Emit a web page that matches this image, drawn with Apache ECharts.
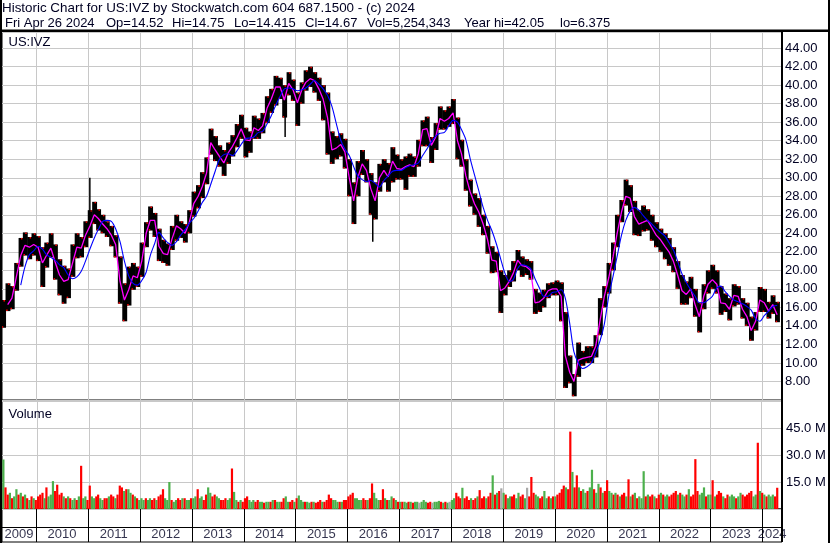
<!DOCTYPE html>
<html><head><meta charset="utf-8">
<script src="https://cdn.jsdelivr.net/npm/echarts@6/dist/echarts.min.js"></script>
<style>html,body{margin:0;padding:0;background:#fff}#c{width:830px;height:543px}</style>
</head><body><div id="c"></div>
<script>
// ---- data (monthly, May 2009 .. Apr 2024) ----
const startYear = 2009, startMonth = 4; // May
const priceLow = [
 13.8,15.6,15.8,17.8,20.4,21.6,21.2,21.6,
 21.0,18.2,20.3,21.4,19.0,17.3,16.4,17.0,19.3,21.3,21.4,22.5,
 23.5,25.0,24.3,24.0,23.6,22.6,21.4,16.4,14.5,16.2,17.9,18.2,
 19.3,22.5,24.3,23.6,21.0,20.8,20.5,22.2,23.2,23.5,23.0,24.0,
 25.8,26.7,27.8,29.3,32.5,31.8,31.2,30.2,31.5,32.3,33.3,34.2,
 32.2,32.7,34.2,34.2,34.8,35.9,37.0,37.8,38.5,36.5,38.9,38.3,
 35.6,38.0,39.4,39.8,39.2,38.3,36.2,32.5,31.5,32.0,32.3,31.0,
 28.0,25.0,28.0,30.3,29.5,26.0,25.5,28.5,29.5,28.5,29.5,29.8,
 29.8,28.7,30.1,30.1,31.2,33.4,33.4,31.6,33.0,35.2,35.2,35.5,
 35.8,32.0,31.2,28.6,26.9,26.0,24.7,23.8,21.8,19.7,19.8,15.4,
 17.3,18.2,18.8,20.0,19.3,19.5,19.0,15.3,15.5,16.0,17.0,17.3,
 17.3,14.5,7.3,7.8,6.4,8.5,9.7,10.0,10.0,10.6,13.0,16.0,
 17.5,20.0,22.5,25.2,27.0,26.3,23.8,23.7,24.2,24.3,23.2,22.5,
 22.0,21.2,20.5,19.8,18.0,16.3,16.3,17.0,15.0,13.3,15.8,17.5,
 18.0,17.5,15.2,15.5,14.6,16.1,16.3,14.8,14.0,12.4,13.5,15.5,
 15.5,14.8,15.3,14.4];
const priceHigh = [
 16.8,18.6,18.3,20.8,23.5,24.1,23.6,24.0,
 23.7,22.5,23.0,24.0,22.8,21.2,20.5,20.2,22.8,24.0,23.6,25.3,
 26.5,27.4,26.6,26.0,25.3,24.8,23.8,21.5,18.6,20.4,20.8,20.4,
 23.0,25.2,26.9,26.2,24.5,23.3,22.9,24.8,26.0,25.3,25.0,26.5,
 28.5,29.2,30.6,32.2,35.3,34.5,33.5,33.0,33.8,34.6,35.8,36.8,
 35.4,35.0,36.7,36.4,37.0,38.8,39.6,41.0,40.8,40.0,41.4,40.6,
 39.2,40.3,41.6,42.0,41.4,40.8,40.0,39.2,35.0,34.5,34.8,34.2,
 32.0,29.5,31.8,33.0,32.0,30.5,29.5,31.5,32.0,31.6,33.3,32.5,
 32.0,32.3,32.6,32.3,34.1,36.2,36.6,34.4,35.9,37.7,37.3,37.7,
 38.5,36.5,34.1,32.0,29.8,28.3,27.8,26.0,24.8,22.6,22.0,20.0,
 19.5,20.0,21.0,22.2,21.5,21.2,21.0,18.0,17.6,17.9,18.6,18.7,
 18.9,18.7,15.5,10.8,8.8,12.2,11.3,11.8,11.8,13.0,17.0,18.3,
 20.8,23.0,26.0,27.6,29.8,29.2,27.5,26.5,27.0,26.6,26.0,25.2,
 24.5,24.0,23.5,22.5,21.0,19.5,18.8,19.3,18.0,16.5,18.5,20.0,
 20.6,20.0,18.3,17.5,17.0,18.5,18.3,17.0,16.5,15.0,15.5,18.2,
 18.0,16.6,17.3,16.6];
const maShort = [
 null,16.3,17.0,19.3,21.6,22.7,22.5,22.8,
 22.5,20.8,21.6,22.4,20.9,19.5,18.8,19.0,20.8,22.5,22.4,23.8,
 24.8,26.0,25.6,25.0,24.5,23.8,22.8,18.8,16.8,17.9,19.4,19.2,
 21.0,24.0,25.4,25.4,22.6,21.8,21.7,23.4,24.8,24.5,24.0,25.2,
 27.2,28.0,29.0,30.5,33.8,33.0,32.3,31.6,32.7,33.4,34.3,35.3,
 34.1,34.0,35.4,35.1,35.6,37.5,38.5,39.8,39.8,38.4,40.2,39.5,
 38.1,39.5,40.3,40.7,40.5,39.6,38.5,36.5,33.0,33.2,33.6,32.8,
 30.0,27.5,30.0,31.5,30.8,28.8,27.5,30.0,30.8,30.1,31.8,31.0,
 30.9,31.2,31.4,31.2,32.6,35.2,35.3,33.5,34.4,36.4,36.1,36.4,
 37.0,34.0,32.6,30.2,28.5,27.2,26.3,25.0,23.3,21.1,21.0,17.8,
 18.1,18.8,19.7,21.1,20.5,20.4,20.0,16.5,16.6,17.0,17.8,18.0,
 18.0,17.2,10.8,9.0,8.0,10.3,10.5,10.6,10.7,11.8,14.6,17.2,
 19.2,21.5,24.0,26.3,28.0,27.8,25.8,25.0,25.2,25.4,24.6,23.8,
 23.3,22.6,22.0,21.0,19.5,17.8,17.4,18.0,16.3,15.0,17.2,18.5,
 19.0,18.5,16.5,16.4,15.8,17.3,17.2,15.8,15.0,13.5,14.5,16.8,
 16.5,15.6,16.3,15.2];
const maLong = [
 null,null,null,null,18.4,20.4,21.7,22.1,
 22.6,22.3,21.7,21.4,21.1,20.6,20.3,19.5,19.1,19.3,19.9,21.0,
 22.3,23.5,24.4,25.3,25.4,25.3,24.5,23.1,21.0,19.4,18.6,18.4,
 18.9,19.8,21.6,22.9,24.1,23.5,23.0,22.7,23.1,23.8,24.4,25.1,
 25.6,26.4,27.3,28.0,29.3,30.7,32.0,32.5,32.6,32.4,32.9,33.6,
 34.2,34.3,34.4,34.9,35.0,35.8,36.7,37.8,38.8,39.6,39.7,39.6,
 39.4,39.5,39.7,40.1,40.5,40.1,39.6,38.9,37.7,35.9,34.1,33.1,
 32.4,31.2,30.2,29.8,29.6,29.7,29.4,29.0,29.7,30.2,30.7,30.8,
 30.8,31.1,31.3,31.4,31.6,32.4,33.1,33.9,34.5,34.8,34.9,35.6,
 36.2,36.0,35.2,34.1,32.1,30.3,28.6,26.8,25.4,24.3,22.9,21.3,
 19.7,18.8,19.0,20.2,20.6,20.5,20.2,19.1,18.1,17.2,17.2,17.6,
 17.7,17.9,17.0,14.3,11.2,10.0,9.4,9.6,10.0,11.1,12.4,14.2,
 17.2,19.4,21.5,23.8,25.4,26.4,26.8,26.5,25.9,25.4,25.0,24.5,
 24.1,23.7,23.0,22.2,21.0,19.6,18.7,17.9,17.2,16.5,16.5,16.8,
 17.2,18.1,18.3,17.7,17.2,16.8,16.6,16.4,16.1,15.7,14.8,14.5,
 15.1,15.6,16.1,16.2];
// single-day extremes: [date, low, high]
const spikes = [['2011-01-14', 26.0, 30.0], ['2014-10-20', 34.4, 37.5], ['2016-06-28', 23.1, 26.5]];
// volume (millions), two per month, May 2009 .. Apr 2024
const volume = [
 27.5,12,8,9,6,7,11,8,9,7,8,6,5,7,6,5,
 7,8,9,6,12,7,8,15.5,10,13.5,8,9,7,6,7,6,5,6,5,7,24,6,7,5,
 13,7,6,7,8,6,5,6,6,7,8,7,6,8,13,12,10,11,11,9,8,7,6,5,
 6,5,6,5,6,5,6,5,7,8,11,6,5,15,5,4,5,6,5,6,6,5,5,6,
 6,7,11,6,7,5,8,12,9,7,8,7,6,5,5,6,5,6,22.5,9.5,5,4,5,4,
 6,7,5,4,5,4,5,4,4,3.5,4,4,4,5,5,4,4,4,6,7,4,4,5,4,
 6,7.5,5,4,4,4,3.5,4,4,3.5,4,5,4,4,5,8,6,5,5,4,4,4,5,5,
 7,8,9,6,6,5,5,6,5,5,6,14.2,9,6,5,5,11,6,5,5,7,6,5,4,
 4,4,4,3.5,4,4,3.5,4,4,3.5,4,5,4,3.5,4,3.5,4,4,4.5,4,3.5,4,3.5,4,
 5,6,9,7,6,11.8,6,7,5,6,5,6,7,10.5,6,7,6,7,9,18.7,8,9,10,11.5,
 9,8,6,7,7,8,6,9,7,8,6,11.8,7,17.8,9,8,7,6,7,10,6,7,6,7,
 7,8,9,11,13,12,11,43,20.6,12,18.7,12,10,11,9,10,12,21.8,11,9,14,12,9,10,
 16,10,9,8,9,8,7,8,9,7,16.5,7,8,9,6,7,6,21,7,8,7,8,7,6,
 8,9,8,7,8,7,8,9,10,8,9,8,7,8,11,7,8,27.7,10,8,9,12,7,8,
 8,16,7,8,10,9,7,6,8,7,8,7,6,7,9,8,7,8,9,10,7,8,36.8,10,
 9,8,7,8,7,8,7,11.8];
// g = up, r = down, n = unchanged
const volumeDir = (
 'grrgrggrgrgrgrgr' +
 'rrrgrgggrrrrgrgrggrgrggr' + 'rggrrggrrgrrgrrrgrggrgrg' + 'ggrggrrgrrrgggrggrrgrggr' +
 'ggrggrrggrrggrrrggrggrgr' + 'rrgggrrggrggrgrggrrggrrg' + 'rgggrggrgrrrgrrrrgggrgrr' +
 'rrrggggrrgrrgggrrgrggrgr' + 'grggrgrggngggrrngggrgrgn' + 'ggrrrgrrrgrrgrrrgrrgrgrn' +
 'grggrrggrrgnrrrggrrggrgr' + 'grrrrgrrgrrgrggrggrggrgr' + 'rggrgrgrrgrgrgrgggrgrrgr' +
 'rgrggrrrrgrggrgrrrrgggrg' + 'grgrrrgrrgggrggrrrrrggrg' + 'rgrgggrr').split('');
const yearLabels = ['2009','2010','2011','2012','2013','2014','2015','2016','2017','2018','2019','2020','2021','2022','2023','2024'];
const priceTicks = [8,10,12,14,16,18,20,22,24,26,28,30,32,34,36,38,40,42,44];
const volumeTicks = [15,30,45];
const titleLine1 = 'Historic Chart for US:IVZ by Stockwatch.com 604 687.1500 - (c) 2024';
const titleLine2 = ['Fri Apr 26 2024', 'Op=14.52', 'Hi=14.75', 'Lo=14.415', 'Cl=14.67', 'Vol=5,254,343', 'Year hi=42.05', 'lo=6.375'];
const titleLine2X = [5, 106, 172, 234, 305, 367, 464, 560];

// ---- build ----
const FONT = '"Liberation Sans", Arial, sans-serif';
const TXT = '#000022';
const GRIDC = '#c8c8c8';
const monthMs = 30.44 * 86400000;
const monthDates = priceLow.map((_, i) => +new Date(startYear, startMonth + i, 15));
const halfDates = volume.map((_, i) => +new Date(startYear, startMonth + Math.floor(i / 2), i % 2 ? 23 : 8));
const xMin = +new Date(2009, 4, 6);
const xMax = +new Date(2024, 4, 19);
const yearStarts = yearLabels.slice(1).map(y => +new Date(+y, 0, 1));
const volColors = { g: '#4cb04c', r: '#ff0000', n: '#a8a8a8' };

function vLine(color) {
  return function (params, api) {
    const cs = params.coordSys;
    const px = Math.round(api.coord([api.value(0), api.value(1)])[0]) + 0.5;
    return { type: 'line', shape: { x1: px, y1: cs.y, x2: px, y2: cs.y + cs.height },
             style: { stroke: color, lineWidth: 1 } };
  };
}

const textEls = [
  { type: 'text', x: 2, y: 8, z: 100, style: { text: titleLine1, font: '13.4px ' + FONT, fill: TXT, verticalAlign: 'middle' } }
].concat(titleLine2.map((s, i) => ({ type: 'text', x: titleLine2X[i], y: 23.5, z: 100,
  style: { text: s, font: '13px ' + FONT, fill: TXT, verticalAlign: 'middle' } })));

const chart = echarts.init(document.getElementById('c'));
chart.setOption({
  animation: false,
  backgroundColor: '#fff',
  grid: [
    { left: 2, top: 32, width: 780, height: 368, show: true, borderColor: '#000', borderWidth: 1 },
    { left: 2, top: 401, width: 780, height: 108, show: true, borderColor: '#000', borderWidth: 1 },
    { left: 2, top: 509, width: 780, height: 33, show: true, borderColor: '#000', borderWidth: 1 }
  ],
  xAxis: [0, 1, 2].map(i => ({ type: 'time', gridIndex: i, min: xMin, max: xMax, show: false })),
  yAxis: [
    { type: 'value', gridIndex: 0, position: 'right', min: 6, max: 45.74, interval: 2,
      axisLine: { show: false }, axisTick: { show: false },
      splitLine: { show: true, lineStyle: { color: GRIDC, width: 1 } },
      axisLabel: { margin: 3, color: TXT, fontSize: 13, fontFamily: FONT, padding: [3, 0, 0, 0],
        formatter: v => priceTicks.includes(Math.round(v * 100) / 100) ? v.toFixed(2) : '' } },
    { type: 'value', gridIndex: 1, position: 'right', min: 0, max: 60, interval: 15,
      axisLine: { show: false }, axisTick: { show: false },
      splitLine: { show: true, lineStyle: { color: GRIDC, width: 1 } },
      axisLabel: { margin: 4, color: TXT, fontSize: 13, fontFamily: FONT,
        formatter: v => volumeTicks.includes(v) ? v.toFixed(1) + ' M' : '' } },
    { type: 'value', gridIndex: 2, min: 0, max: 2, show: false }
  ],
  series: [
    { type: 'custom', xAxisIndex: 0, yAxisIndex: 0, silent: true, clip: false, z: 1,
      data: yearStarts.map(t => [t, 20]), encode: { x: 0, y: 1 }, renderItem: vLine(GRIDC) },
    { type: 'custom', xAxisIndex: 1, yAxisIndex: 1, silent: true, clip: false, z: 1,
      data: yearStarts.map(t => [t, 10]), encode: { x: 0, y: 1 }, renderItem: vLine(GRIDC) },
    { type: 'custom', xAxisIndex: 2, yAxisIndex: 2, silent: true, clip: false, z: 1,
      data: yearStarts.map(t => [t, 1]), encode: { x: 0, y: 1 }, renderItem: vLine('#000') },
    { type: 'custom', xAxisIndex: 2, yAxisIndex: 2, silent: true, clip: false, z: 1,
      data: [[xMin, 0.93]], encode: { x: 0, y: 1 },
      renderItem: (params, api) => {
        const cs = params.coordSys;
        const y = Math.round(api.coord([api.value(0), api.value(1)])[1]) + 0.5;
        return { type: 'line', shape: { x1: cs.x, y1: y, x2: cs.x + cs.width, y2: y }, style: { stroke: '#000', lineWidth: 1 } };
      } },
    { type: 'custom', name: 'price', xAxisIndex: 0, yAxisIndex: 0, silent: true, clip: true, z: 3,
      data: monthDates.map((t, i) => [t, priceLow[i], priceHigh[i]]), encode: { x: 0, y: [1, 2] },
      renderItem: (params, api) => {
        const t = api.value(0);
        const top = api.coord([t, api.value(2)]);
        const bot = api.coord([t, api.value(1)]);
        const w = api.size([monthMs, 0])[0];
        const x0 = top[0] - w / 2;
        return { type: 'group', children: [
          { type: 'rect', shape: { x: x0, y: top[1], width: w + 0.6, height: Math.max(1, bot[1] - top[1]) }, style: { fill: '#000' } },
          { type: 'rect', shape: { x: x0 + w * 0.55, y: top[1], width: 1.5, height: 1.5 }, style: { fill: '#ff0000' } },
          { type: 'rect', shape: { x: x0 + w * 0.15, y: bot[1] - 1.5, width: 1.5, height: 1.5 }, style: { fill: '#ff0000' } }
        ] };
      } },
    { type: 'custom', xAxisIndex: 0, yAxisIndex: 0, silent: true, clip: true, z: 3,
      data: spikes.map(s => [+new Date(s[0] + 'T12:00:00'), s[1], s[2]]), encode: { x: 0, y: [1, 2] },
      renderItem: (params, api) => {
        const t = api.value(0);
        const a = api.coord([t, api.value(2)]), b = api.coord([t, api.value(1)]);
        return { type: 'line', shape: { x1: a[0], y1: a[1], x2: b[0], y2: b[1] }, style: { stroke: '#000', lineWidth: 1.5 } };
      } },
    { type: 'line', xAxisIndex: 0, yAxisIndex: 0, silent: true, z: 4, symbol: 'none', showSymbol: false,
      data: monthDates.map((t, i) => [t, maShort[i]]), lineStyle: { color: '#ff00ff', width: 1.3 } },
    { type: 'line', xAxisIndex: 0, yAxisIndex: 0, silent: true, z: 5, symbol: 'none', showSymbol: false, smooth: 0.3,
      data: monthDates.map((t, i) => [t, maLong[i]]), lineStyle: { color: '#0000ff', width: 1.1 } },
    { type: 'bar', xAxisIndex: 1, yAxisIndex: 1, silent: true, z: 3, barWidth: 2.2,
      data: volume.map((v, i) => ({ value: [halfDates[i], v], itemStyle: { color: volColors[volumeDir[i]] } })) },
    { type: 'scatter', xAxisIndex: 2, yAxisIndex: 2, silent: true, z: 6, symbolSize: 1,
      itemStyle: { color: 'rgba(0,0,0,0)' },
      data: yearLabels.map(y => {
        const s = Math.max(xMin, +new Date(+y, 0, 1));
        const e = Math.min(xMax, +new Date(+y + 1, 0, 1));
        return [(s + e) / 2, 0.45, y];
      }),
      label: { show: true, position: 'inside', formatter: p => String(p.value[2]), color: TXT, fontSize: 13, fontFamily: FONT } }
  ],
  graphic: textEls.concat([
    { type: 'text', x: 8.5, y: 42, z: 100, style: { text: 'US:IVZ', font: '13px ' + FONT, fill: TXT, verticalAlign: 'middle' } },
    { type: 'text', x: 8.5, y: 414.5, z: 100, style: { text: 'Volume', font: '13px ' + FONT, fill: TXT, verticalAlign: 'middle' } },
    { type: 'rect', z: 100, shape: { x: 0, y: 29.5, width: 830, height: 2.5 }, style: { fill: '#000' } },
    { type: 'rect', z: 100, shape: { x: 0, y: 0, width: 2, height: 543 }, style: { fill: '#000' } },
    { type: 'rect', z: 100, shape: { x: 828, y: 0, width: 2, height: 543 }, style: { fill: '#000' } },
    { type: 'rect', z: 100, shape: { x: 781, y: 31, width: 2, height: 511 }, style: { fill: '#000' } }
  ])
});
</script>
</body></html>
